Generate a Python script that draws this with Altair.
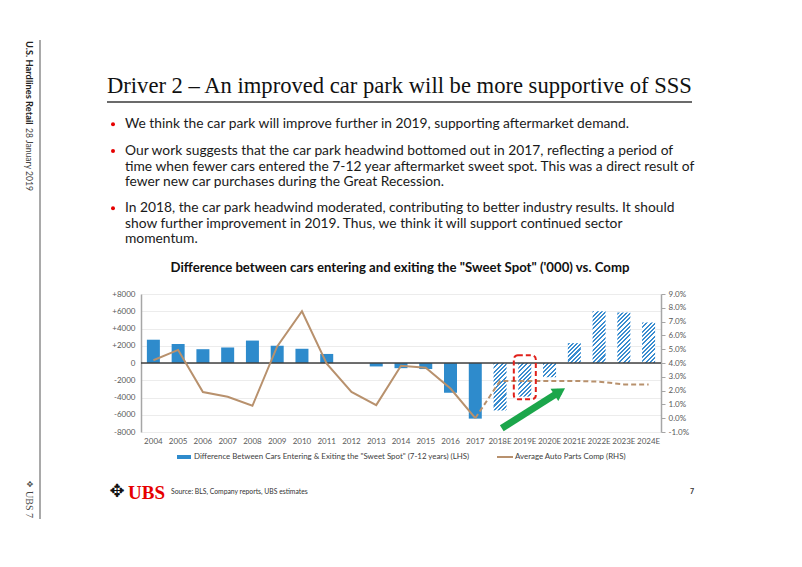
import math
import altair as alt
import pandas as pd

# ---------------- data ----------------
years = ["2004", "2005", "2006", "2007", "2008", "2009", "2010", "2011", "2012",
         "2013", "2014", "2015", "2016", "2017", "2018E", "2019E", "2020E",
         "2021E", "2022E", "2023E", "2024E"]
diff_k = [2700, 2200, 1600, 1800, 2600, 2000, 1650, 1050, 0,
          -400, -600, -700, -3450, -6450, -5500, -3900, -1650,
          2300, 6000, 5850, 4700]
comp_pct = [4.2, 4.95, 1.9, 1.55, 0.9, 5.2, 7.75, 3.95, 1.9,
            0.95, 3.8, 3.65, 2.15, 0.0, 2.7, 2.7, 2.7,
            2.7, 2.65, 2.45, 2.45]
n_actual = 14  # 2004..2017 actual, rest estimates
left_ticks = [-8000, -6000, -4000, -2000, 0, 2000, 4000, 6000, 8000]
right_ticks = [-1, 0, 1, 2, 3, 4, 5, 6, 7, 8, 9]
highlight_year = "2019E"
highlight_range = [900, -4200]
arrow_from = [14.07, -7570]
arrow_to = [16.41, -3320]

chart_title = "Difference between cars entering and exiting the \"Sweet Spot\" ('000) vs. Comp"
legend_bar = "Difference Between Cars Entering & Exiting the \"Sweet Spot\" (7-12 years) (LHS)"
legend_line = "Average Auto Parts Comp (RHS)"
slide_title = "Driver 2 \u2013 An improved car park will be more supportive of SSS"
bullets = [
    "We think the car park will improve further in 2019, supporting aftermarket demand.",
    "Our work suggests that the car park headwind bottomed out in 2017, reflecting a period of",
    "time when fewer cars entered the 7-12 year aftermarket sweet spot. This was a direct result of",
    "fewer new car purchases during the Great Recession.",
    "In 2018, the car park headwind moderated, contributing to better industry results. It should",
    "show further improvement in 2019. Thus, we think it will support continued sector",
    "momentum.",
]

# ---------------- layout / style ----------------
W, H = 520, 138
OX, OY = 141, 294          # page position of the plot origin
TOTAL_W, TOTAL_H = 786, 551
N = len(years)
STEP = W / N
PAD_IN = 0.475
BAND_W = STEP * (1 - PAD_IN)
HATCH_P = 3.0

FONT = "Lato"
SERIF = "Liberation Serif"
BLUE = "#2E8BCC"
HATCH_BLUE = "#3A8DD0"
TAN = "#B8916D"
GREEN = "#1BA64B"
RED_BOX = "#E0201B"
UBS_RED = "#E60000"
AXIS_GRAY = "#A6A6A6"
LABEL = "#595959"
TEXT = "#1A1A1A"

df = pd.DataFrame({"year": years, "diff": diff_k, "comp": comp_pct, "idx": list(range(N))})


def xband():
    return alt.Scale(domain=years, paddingInner=PAD_IN, paddingOuter=PAD_IN / 2)


def yleft():
    return alt.Scale(domain=[-8000, 8000], nice=False)


def yright():
    return alt.Scale(domain=[-1, 9], nice=False)


def xlin():
    return alt.Scale(domain=[-0.5, N - 0.5], nice=False, zero=False)


def hatch_fill(v):
    w = BAND_W
    h = max(abs(v) * H / 16000.0, 1.0)
    s = (w + h) / (w * w + h * h)
    L = (w + h) / math.sqrt(2)
    stops = []
    pos = 0.0
    while pos < L:
        a = min(pos / L, 1.0)
        b = min((pos + HATCH_P * 0.5) / L, 1.0)
        c = min((pos + HATCH_P) / L, 1.0)
        stops += [alt.GradientStop(color=HATCH_BLUE, offset=a),
                  alt.GradientStop(color=HATCH_BLUE, offset=b),
                  alt.GradientStop(color="#FFFFFF", offset=b),
                  alt.GradientStop(color="#FFFFFF", offset=c)]
        pos += HATCH_P
    return alt.LinearGradient(gradient="linear", stops=stops,
                              x1=0, y1=0, x2=s * w, y2=s * h)


layers = []

# actual bars with both axes (x bottom, y left)
xaxis = alt.Axis(title=None, labelAngle=0, labelFontSize=8, labelColor=LABEL, labelFont=FONT,
                 domain=False, ticks=False, labelPadding=5)
yaxis = alt.Axis(title=None, values=left_ticks,
                 labelExpr="datum.value > 0 ? '+' + datum.value : (datum.value < 0 ? '-' + abs(datum.value) : '0')",
                 grid=True, gridColor="#ECECEC", gridWidth=1,
                 domainColor=AXIS_GRAY, domainWidth=1.5, ticks=False,
                 labelPadding=6, labelFontSize=8, labelColor=LABEL, labelFont=FONT)
layers.append(
    alt.Chart(df.iloc[:n_actual]).mark_bar(color=BLUE).encode(
        x=alt.X("year:N", sort=years, scale=xband(), axis=xaxis),
        y=alt.Y("diff:Q", scale=yleft(), axis=yaxis),
    )
)

# hatched estimate bars
for i in range(n_actual, N):
    layers.append(
        alt.Chart(df.iloc[i:i + 1]).mark_bar(fill=hatch_fill(diff_k[i])).encode(
            x=alt.X("year:N", sort=years, scale=xband(), axis=None),
            y=alt.Y("diff:Q", scale=yleft(), axis=None),
        )
    )

# zero line
layers.append(
    alt.Chart(pd.DataFrame({"z": [0]})).mark_rule(color="#404040", strokeWidth=1.5).encode(
        y=alt.Y("z:Q", scale=yleft(), axis=None)
    )
)

# comp line: solid actual, dashed estimates
raxis = alt.Axis(title=None, orient="right", values=right_ticks,
                 labelExpr="(datum.value < 0 ? '-' : '') + format(abs(datum.value), '.1f') + '%'",
                 grid=False, tickSize=4, tickColor=AXIS_GRAY, domainColor=AXIS_GRAY, domainWidth=1.5,
                 labelPadding=3, labelFontSize=8, labelColor=LABEL, labelFont=FONT)
layers.append(
    alt.Chart(df.iloc[:n_actual]).mark_line(color=TAN, strokeWidth=2).encode(
        x=alt.X("idx:Q", scale=xlin(), axis=None),
        y=alt.Y("comp:Q", scale=yright(), axis=raxis),
    )
)
layers.append(
    alt.Chart(df.iloc[n_actual - 1:]).mark_line(color=TAN, strokeWidth=2, strokeDash=[5, 3]).encode(
        x=alt.X("idx:Q", scale=xlin(), axis=None),
        y=alt.Y("comp:Q", scale=yright(), axis=None),
    )
)

# red dashed highlight box
layers.append(
    alt.Chart(pd.DataFrame({"year": [highlight_year], "top": [highlight_range[0]], "bot": [highlight_range[1]]}))
    .mark_bar(width=22, fillOpacity=0, stroke=RED_BOX, strokeWidth=2, strokeDash=[5, 3], cornerRadius=4)
    .encode(
        x=alt.X("year:N", sort=years, scale=xband(), axis=None),
        y=alt.Y("top:Q", scale=yleft(), axis=None),
        y2="bot:Q",
    )
)

# green arrow
arrow_df = pd.DataFrame({"x": [arrow_from[0]], "y": [arrow_from[1]], "x2": [arrow_to[0]], "y2": [arrow_to[1]]})
layers.append(
    alt.Chart(arrow_df).mark_rule(color=GREEN, strokeWidth=7, strokeCap="butt").encode(
        x=alt.X("x:Q", scale=xlin(), axis=None), x2="x2:Q",
        y=alt.Y("y:Q", scale=yleft(), axis=None), y2="y2:Q",
    )
)
dx = (arrow_to[0] - arrow_from[0]) * STEP
dy = -(arrow_to[1] - arrow_from[1]) * H / 16000.0
head_angle = math.degrees(math.atan2(dx, -dy))
layers.append(
    alt.Chart(pd.DataFrame({"x": [arrow_to[0]], "y": [arrow_to[1]]}))
    .mark_point(shape="triangle-up", filled=True, size=210, angle=head_angle, color=GREEN, opacity=1)
    .encode(x=alt.X("x:Q", scale=xlin(), axis=None), y=alt.Y("y:Q", scale=yleft(), axis=None))
)


# ---------------- slide furniture (pixel positioned) ----------------
def texts(rows, **kw):
    d = pd.DataFrame([{"x": x - OX, "y": y - OY, "t": t} for x, y, t in rows])
    return alt.Chart(d).mark_text(**kw).encode(
        x=alt.X("x:Q", scale=None, axis=None),
        y=alt.Y("y:Q", scale=None, axis=None),
        text="t:N",
    )


def rules(rows, **kw):
    d = pd.DataFrame([{"x": a - OX, "y": b - OY, "x2": c - OX, "y2": e - OY} for a, b, c, e in rows])
    return alt.Chart(d).mark_rule(**kw).encode(
        x=alt.X("x:Q", scale=None, axis=None), x2="x2:Q",
        y=alt.Y("y:Q", scale=None, axis=None), y2="y2:Q",
    )


# slide title and underline
layers.append(texts([(107, 93, slide_title)], font=SERIF, fontSize=22.6, color="#111111",
                    align="left", baseline="alphabetic"))
layers.append(rules([(107, 102, 692, 102)], color="#3A3A3A", strokeWidth=1.5))

# bullets
bullet_lines_y = [128.3, 155, 170.5, 186, 212.3, 227.7, 243]
layers.append(texts([(125, y, t) for y, t in zip(bullet_lines_y, bullets)], font=FONT, fontSize=13.8,
                    color=TEXT, align="left", baseline="alphabetic"))
bdots = pd.DataFrame({"x": [113 - OX] * 3, "y": [124.3 - OY, 151 - OY, 208.3 - OY]})
layers.append(
    alt.Chart(bdots).mark_circle(size=16, color=UBS_RED, opacity=1).encode(
        x=alt.X("x:Q", scale=None, axis=None), y=alt.Y("y:Q", scale=None, axis=None)
    )
)

# chart title
layers.append(texts([(400, 268, chart_title)], font=FONT, fontSize=13.2, fontWeight="bold",
                    color="#111111", align="center", baseline="middle"))

# legend
leg_rect = pd.DataFrame({"x": [177 - OX], "x2": [191 - OX], "y": [455 - OY], "y2": [459 - OY]})
layers.append(
    alt.Chart(leg_rect).mark_rect(color=BLUE).encode(
        x=alt.X("x:Q", scale=None, axis=None), x2="x2:Q",
        y=alt.Y("y:Q", scale=None, axis=None), y2="y2:Q",
    )
)
layers.append(rules([(497, 457, 513, 457)], color=TAN, strokeWidth=2))
layers.append(texts([(194, 457, legend_bar), (515, 457, legend_line)], font=FONT, fontSize=7.9,
                    color="#404040", align="left", baseline="middle"))

# footer
layers.append(texts([(117, 492, "\u2725")], font="DejaVu Sans", fontSize=18, color="#111111",
                    align="center", baseline="middle"))
layers.append(texts([(128, 499, "UBS")], font=SERIF, fontSize=19, fontWeight="bold", color=UBS_RED,
                    align="left", baseline="alphabetic"))
layers.append(texts([(171, 492, "Source: BLS, Company reports, UBS estimates")], font=FONT, fontSize=6.8,
                    color="#333333", align="left", baseline="middle"))
layers.append(texts([(692, 492, "7")], font=FONT, fontSize=7, fontWeight="bold", color="#333333",
                    align="center", baseline="middle"))

# left sidebar
layers.append(rules([(40, 40, 40, 519)], color="#8C8C8C", strokeWidth=1.5))
layers.append(texts([(29, 41, "U.S. Hardlines Retail")], font=FONT, fontSize=9.3, fontWeight="bold",
                    color="#222222", angle=90, align="left", baseline="middle"))
layers.append(texts([(29, 128, "28 January 2019")], font=FONT, fontSize=8.6, color="#444444",
                    angle=90, align="left", baseline="middle"))
layers.append(texts([(29, 484, "\u2725")], font="DejaVu Sans", fontSize=8, color="#444444",
                    angle=90, align="center", baseline="middle"))
layers.append(texts([(29, 491, "UBS 7")], font=SERIF, fontSize=10, color="#444444",
                    angle=90, align="left", baseline="middle"))

chart = (
    alt.layer(*layers)
    .resolve_scale(x="independent", y="independent")
    .properties(
        width=W, height=H,
        autosize=alt.AutoSizeParams(type="none"),
        padding={"left": OX - 8, "top": OY - 8, "right": TOTAL_W - (OX - 8) - W,
                 "bottom": TOTAL_H - (OY - 8) - H},
        background="white",
    )
    .configure_view(stroke=None)
)

chart.save("out.html", embed_options={"renderer": "svg", "actions": False})
